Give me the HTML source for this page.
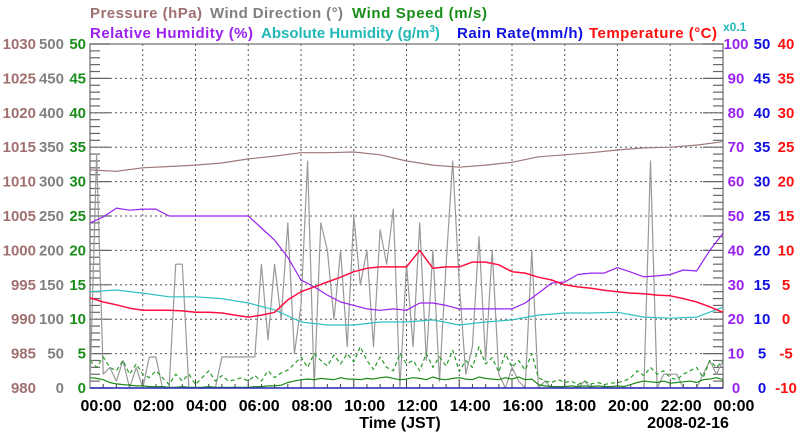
<!DOCTYPE html>
<html><head><meta charset="utf-8"><style>
html,body{margin:0;padding:0;background:#fff;}
svg{display:block;font-family:"Liberation Sans",Arial,sans-serif;font-weight:bold;}
</style></head><body>
<svg id="chart" width="800" height="434" viewBox="0 0 800 434" xmlns="http://www.w3.org/2000/svg">
<g font-size="15">
<text x="90" y="18" fill="#a07070" textLength="112">Pressure (hPa)</text>
<text x="210" y="18" fill="#808080" textLength="133">Wind Direction (°)</text>
<text x="352" y="18" fill="#1a8c1a" textLength="135">Wind Speed (m/s)</text>
</g>
<g font-size="15">
<text x="90" y="38" fill="#9922ee" textLength="163">Relative Humidity (%)</text>
<text x="261" y="38" fill="#22b8b8">Absolute Humidity (g/m<tspan dy="-6" font-size="10">3</tspan><tspan dy="6">)</tspan></text>
<text x="457" y="38" fill="#1010e0" textLength="126">Rain Rate(mm/h)</text>
<text x="589" y="38" fill="#ff1010" textLength="128">Temperature (°C)</text>
<text x="723" y="31" fill="#22b8b8" font-size="12">x0.1</text>
</g>
<g id="grid"></g>
<g id="axes"></g>
<g id="series"></g>
<g id="labels" font-size="15"></g>
<text x="400" y="428" text-anchor="middle" font-size="16" fill="#000">Time (JST)</text>
<text x="688" y="428" text-anchor="middle" font-size="16" fill="#000">2008-02-16</text>
</svg>
<script>
// ---- data ----
const xTickLabels = ["00:00","02:00","04:00","06:00","08:00","10:00","12:00","14:00","16:00","18:00","20:00","22:00","00:00"];
const pressureTicks = [980,985,990,995,1000,1005,1010,1015,1020,1025,1030];
const windDirTicks = [0,50,100,150,200,250,300,350,400,450,500];
const windSpdTicks = [0,5,10,15,20,25,30,35,40,45,50];
const rhTicks = [0,10,20,30,40,50,60,70,80,90,100];
const rainTicks = [0,5,10,15,20,25,30,35,40,45,50];
const tempTicks = [-10,-5,0,5,10,15,20,25,30,35,40];
// hourly (0..24)
const pressure = [1011.7,1011.5,1012,1012.2,1012.4,1012.7,1013.3,1013.7,1014.2,1014.2,1014.3,1013.9,1013,1012.4,1012.1,1012.4,1012.8,1013.6,1013.9,1014.2,1014.6,1014.9,1015,1015.3,1015.8];
const absHumidity = [28,28.5,27.6,26.5,26.5,26,24.7,22.7,19.2,18.3,18.3,19.2,19.2,19.8,18.3,19.2,19.8,21.2,21.8,21.8,22,20.6,20.3,20.6,23.5];
// half-hourly (0..24)
const relHumidity = [48,49.7,52.3,51.7,52,52,50,50,50,50,50,50,50,46.5,43,38,31.4,29.4,27,25,24,23,22.6,23,22.6,24.7,24.7,24,23,23,23,23,23,24.7,27.6,30.5,30.8,33,33.4,33.4,35,33.7,32.3,32.6,33,34.3,34,40,45];
const temperature = [3.1,2.5,2.1,1.6,1.3,1.3,1.3,1.2,1.0,1.0,0.9,0.6,0.3,0.6,1.0,2.8,4,4.7,5.4,6.1,6.9,7.4,7.6,7.6,7.6,10,7.4,7.6,7.6,8.3,8.3,7.9,6.9,6.7,6.1,5.7,5,4.7,4.5,4.2,4,3.8,3.7,3.5,3.4,3.0,2.5,1.8,1.0];
// 15-minute (0..24)
const windDir = [0,340,20,30,10,40,0,30,0,45,45,0,0,180,180,0,0,0,0,0,45,45,45,45,45,45,180,70,180,100,240,50,120,330,0,240,200,100,200,60,250,150,200,60,230,180,260,0,180,60,240,40,200,10,180,330,150,20,60,220,40,200,20,0,30,10,0,200,0,10,0,0,0,0,0,10,0,0,0,0,0,0,0,0,0,330,0,20,20,20,0,0,0,20,40,20,40];
const windSpeed = [1.5,1.4,1.2,0.8,0.6,0.5,0.4,0.3,0.3,0.2,0.2,0.2,0.1,0.1,0.2,0.1,0.1,0.1,0.2,0.1,0.1,0.1,0.1,0.1,0.1,0.2,0.2,0.3,0.3,0.4,0.8,1.0,1.2,1.3,1.2,1.4,1.3,1.2,1.5,1.3,1.3,1.2,1.4,1.3,1.5,1.6,1.4,1.2,1.3,1.5,1.4,1.2,1.6,1.3,1.2,1.4,1.5,1.3,1.2,1.6,1.4,1.3,1.2,1.5,1.3,1.6,1.2,1.3,0.5,0.3,0.2,0.2,0.2,0.3,0.2,0.3,0.2,0.3,0.2,0.2,0.3,0.2,0.5,0.8,1.0,0.9,0.8,1.0,0.7,0.8,0.9,1.0,0.8,1.2,1.3,1.5,1.2];
const windGust = [4,3,4.5,3,2.5,4,2,3.5,2,1.5,2.5,1.5,0.5,2,1,2,0.5,1.5,2.5,1,1.8,1,1.2,1.5,1,1.8,1,2.5,1.5,2.2,2.6,3.5,4.5,3,5,4,3.2,4.8,3.5,5,3.8,6,4,2.7,4.5,3,2.5,5,3.5,4,2.5,5,3,4.5,3.2,5.5,2.4,4,3,6,3.5,4.4,2.3,5,3,4,2.6,5,1.5,1,0.8,1.2,0.8,1,0.5,1,0.6,0.8,0.5,0.7,0.8,1,1.5,2.5,1.8,3,2,2.5,1.5,1.2,2,2.5,3,1.5,4,3,4];
const rainRate = new Array(97).fill(0);

// ---- scales ----
const L=90,R=723,T=44,B=388;
const xH = h => L + (R-L)*h/24;
const yLin = (v,min,max) => B - (B-T)*(v-min)/(max-min);
const yP = v=>yLin(v,980,1030), yWD=v=>yLin(v,0,500), yWS=v=>yLin(v,0,50);
const yRH = v=>yLin(v,0,100), yRain=v=>yLin(v,0,50), yT=v=>yLin(v,-10,40);
const NS="http://www.w3.org/2000/svg";
function mk(tag, attrs, parent){const e=document.createElementNS(NS,tag);for(const k in attrs)e.setAttribute(k,attrs[k]);parent.appendChild(e);return e;}
const grid=document.getElementById('grid'), axes=document.getElementById('axes'), ser=document.getElementById('series'), lab=document.getElementById('labels');

// grid
for(let i=1;i<12;i++){const x=xH(i*2);
 const g=mk('line',{x1:x,y1:T,x2:x,y2:B,stroke:'#555','stroke-width':1,'stroke-dasharray':'2,3'},grid);
 
 }
for(let i=1;i<10;i++){const y=yWS(i*5);
 const g=mk('line',{x1:L,y1:y,x2:R,y2:y,stroke:'#555','stroke-width':1,'stroke-dasharray':'2,3'},grid);
 
 }
// axes frame
const fr=mk('rect',{x:L,y:T,width:R-L,height:B-T,fill:'none',stroke:'#777','stroke-width':1.3},axes);


for(let i=0;i<=50;i++){const y=yWS(i);const len=(i%5===0)?20:10;
 const a=mk('line',{x1:L,y1:y,x2:L+len,y2:y,stroke:'#666','stroke-width':1.2},axes);
 
 
 const b=mk('line',{x1:R-len,y1:y,x2:R,y2:y,stroke:'#666','stroke-width':1.2},axes);
 
 }
for(let i=0;i<=48;i++){const x=xH(i/2);const len=(i%4===0)?8:4;
 const t=mk('line',{x1:x,y1:B,x2:x,y2:B-len,stroke:'#444','stroke-width':1},axes);
 
 }

// labels
function txt(s,x,y,fill,anchor,name){const e=mk('text',{x:x,y:y,fill:fill,'text-anchor':anchor},lab);e.textContent=s;
 
 return e;}
pressureTicks.forEach(v=>txt(v,36,yP(v)+5,'#a07070','end','pressure-tick-label'));
windDirTicks.forEach(v=>txt(v,64,yWD(v)+5,'#808080','end','wind-direction-tick-label'));
windSpdTicks.forEach(v=>txt(v,86,yWS(v)+5,'#1a8c1a','end','wind-speed-tick-label'));
rhTicks.forEach(v=>txt(v,736,yRH(v)+5,'#9922ee','middle','relative-humidity-tick-label'));
rainTicks.forEach(v=>txt(v,762,yRain(v)+5,'#1010e0','middle','rain-rate-tick-label'));
tempTicks.forEach(v=>txt(v,786,yT(v)+5,'#ff1010','middle','temperature-tick-label'));
xTickLabels.forEach((s,i)=>{const e=txt(s,xH(i*2)+11,411,'#000','middle','x-tick-label');e.setAttribute('font-size','16');});

// series
function line(arr,stepH,yf,color,name,extra){
 const pts=arr.map((v,i)=>xH(i*stepH).toFixed(1)+','+yf(v).toFixed(1)).join(' ');
 const p=mk('polyline',Object.assign({points:pts,fill:'none',stroke:color,'stroke-width':1.2,'stroke-linejoin':'round'},extra||{}),ser);
 
 }
line(windDir,0.25,yWD,'#999','wind-direction-line');
line(windGust,0.25,yWS,'#2a9a2a','wind-gust-line',{'stroke-dasharray':'4,3'});
line(windSpeed,0.25,yWS,'#1a8c1a','wind-speed-line');
line(rainRate,0.25,yRain,'#3030c0','rain-rate-line',{'stroke-width':1.5});
line(pressure,1,yP,'#a07878','pressure-line');
line(absHumidity,1,yRH,'#30c0c0','absolute-humidity-line');
line(relHumidity,0.5,yRH,'#9922ee','relative-humidity-line');
line(temperature,0.5,yT,'#ff1040','temperature-line',{'stroke-width':1.5});
</script>
</body></html>
